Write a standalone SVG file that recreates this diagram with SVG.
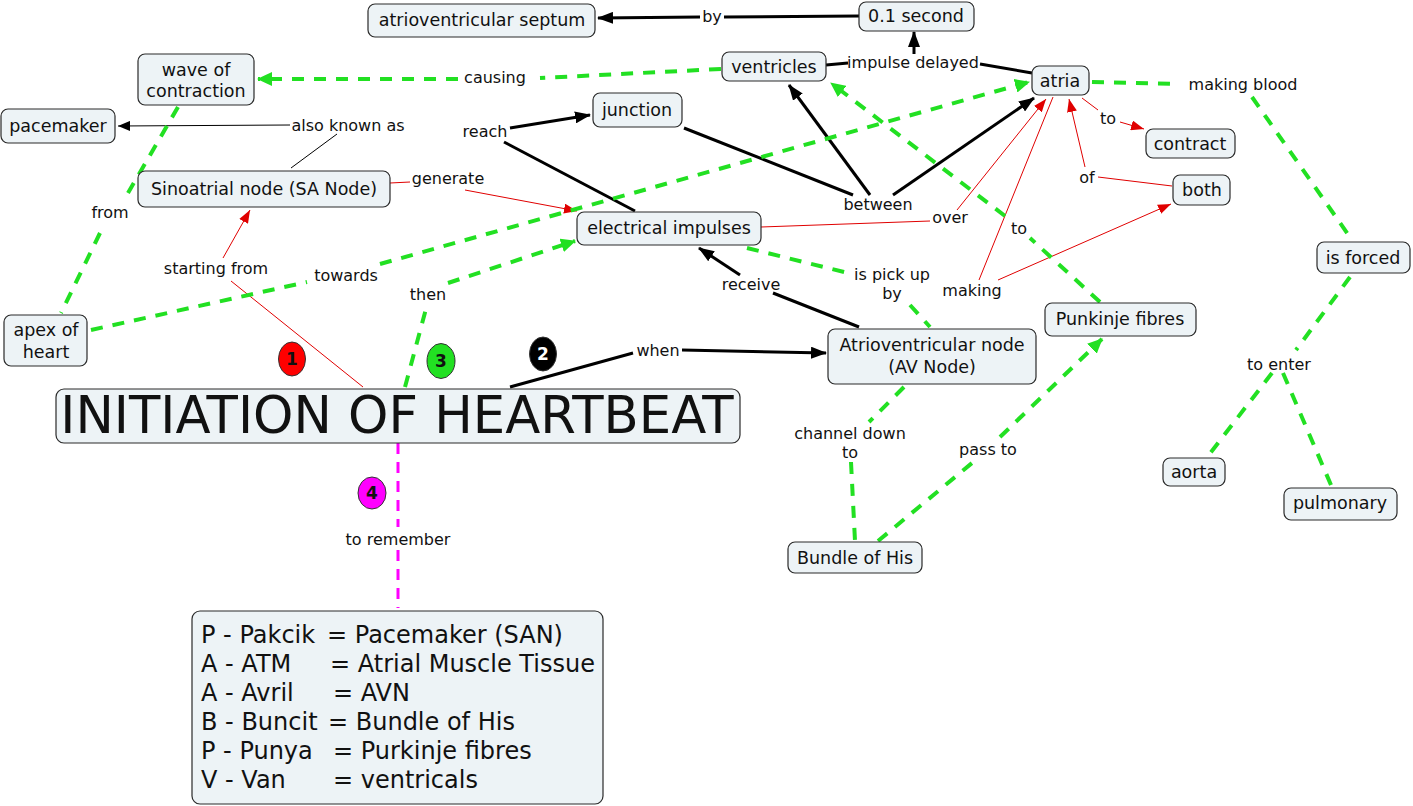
<svg xmlns="http://www.w3.org/2000/svg" width="1413" height="806" viewBox="0 0 1413 806">
<style>
text{font-family:"DejaVu Sans",Verdana,sans-serif;fill:#111;text-anchor:middle}
.n{font-size:17.5px}
.l{font-size:16px}
.box{fill:#edf3f6;stroke:#2a2a2a;stroke-width:1.2}
.bk{stroke:#000;stroke-width:3;fill:none}
.bt{stroke:#000;stroke-width:1;fill:none}
.rd{stroke:#e00000;stroke-width:1;fill:none}
.gr{stroke:#22e022;stroke-width:4;fill:none;stroke-dasharray:12 10}
.mg{stroke:#ff00ff;stroke-width:3;fill:none;stroke-dasharray:11 8}
.num{font-size:17px;font-weight:bold}
.mn{font-size:24px;text-anchor:start}
</style>
<defs>
<marker id="ab" viewBox="0 0 16 12" refX="15" refY="6" markerWidth="16" markerHeight="12" markerUnits="userSpaceOnUse" orient="auto"><path d="M0,0 L16,6 L0,12 z" fill="#000"/></marker>
<marker id="at" viewBox="0 0 12 10" refX="12" refY="5" markerWidth="12" markerHeight="10" markerUnits="userSpaceOnUse" orient="auto"><path d="M0,0 L12,5 L0,10 z" fill="#000"/></marker>
<marker id="ar" viewBox="0 0 13 10" refX="13" refY="5" markerWidth="13" markerHeight="10" markerUnits="userSpaceOnUse" orient="auto"><path d="M0,0 L13,5 L0,10 z" fill="#e00000"/></marker>
<marker id="ag" viewBox="0 0 15 14" refX="14" refY="7" markerWidth="15" markerHeight="14" markerUnits="userSpaceOnUse" orient="auto"><path d="M0,0 L15,7 L0,14 z" fill="#22e022"/></marker>
</defs>
<rect width="1413" height="806" fill="#fff"/>
<g id="connectors">
<path class="bk" d="M859,16 L724,17"/>
<path class="bk" d="M700,17 L598,18" marker-end="url(#ab)"/>
<path class="bk" d="M826,65 L848,63"/>
<path class="bk" d="M914,54 L914,32" marker-end="url(#ab)"/>
<path class="bk" d="M980,64 L1032,73"/>
<path class="bk" d="M684,128 L853,195"/>
<path class="bk" d="M870,195 L789,85" marker-end="url(#ab)"/>
<path class="bk" d="M893,195 L1034,98" marker-end="url(#ab)"/>
<path class="bk" d="M510,128 L590,115" marker-end="url(#ab)"/>
<path class="bk" d="M635,211 L504,142"/>
<path class="bk" d="M510,387 L633,353"/>
<path class="bk" d="M682,350 L826,353" marker-end="url(#ab)"/>
<path class="bk" d="M859,327 L773,293"/>
<path class="bk" d="M740,275 L699,248" marker-end="url(#ab)"/>
<path class="bt" d="M291,168 L337,134"/>
<path class="bt" d="M290,125 L118,126" marker-end="url(#at)"/>
<path class="rd" d="M390,183 L410,182"/>
<path class="rd" d="M465,190 L577,211" marker-end="url(#ar)"/>
<path class="rd" d="M363,387 L231,281"/>
<path class="rd" d="M223,258 L250,210" marker-end="url(#ar)"/>
<path class="rd" d="M761,227 L930,221"/>
<path class="rd" d="M957,210 L1046,99" marker-end="url(#ar)"/>
<path class="rd" d="M1053,97 L979,280"/>
<path class="rd" d="M998,280 L1171,204" marker-end="url(#ar)"/>
<path class="rd" d="M1172,186 L1098,177"/>
<path class="rd" d="M1085,167 L1069,99" marker-end="url(#ar)"/>
<path class="rd" d="M1082,98 L1098,110"/>
<path class="rd" d="M1120,122 L1144,129" marker-end="url(#ar)"/>
<path class="gr" d="M721,69 L540,78"/>
<path class="gr" d="M458,79 L258,79" marker-end="url(#ag)"/>
<path class="gr" d="M178,107 L128,193"/>
<path class="gr" d="M100,233 L61,313"/>
<path class="gr" d="M91,330 L307,282"/>
<path class="gr" d="M380,264 L1029,82" marker-end="url(#ag)"/>
<path class="gr" d="M405,387 L427,305"/>
<path class="gr" d="M448,283 L575,241" marker-end="url(#ag)"/>
<path class="gr" d="M747,248 L848,273"/>
<path class="gr" d="M910,305 L930,327"/>
<path class="gr" d="M904,387 L869,422"/>
<path class="gr" d="M851,462 L855,541"/>
<path class="gr" d="M878,541 L972,463"/>
<path class="gr" d="M1000,437 L1102,339" marker-end="url(#ag)"/>
<path class="gr" d="M1100,302 L1030,238"/>
<path class="gr" d="M1005,216 L831,83" marker-end="url(#ag)"/>
<path class="gr" d="M1092,82 L1177,84"/>
<path class="gr" d="M1252,97 L1352,240"/>
<path class="gr" d="M1350,277 L1296,350"/>
<path class="gr" d="M1272,373 L1208,456"/>
<path class="gr" d="M1283,373 L1331,485"/>
<path class="mg" d="M398,443 L398,527"/>
<path class="mg" d="M398,550 L398,608"/>
</g>
<g id="labels">
<text class="l" x="712" y="22">by</text>
<text class="l" x="913" y="68">impulse delayed</text>
<text class="l" x="495" y="83">causing</text>
<text class="l" x="348" y="131">also known as</text>
<text class="l" x="110" y="218">from</text>
<text class="l" x="448" y="184">generate</text>
<text class="l" x="485" y="137">reach</text>
<text class="l" x="878" y="210">between</text>
<text class="l" x="346" y="281">towards</text>
<text class="l" x="428" y="300">then</text>
<text class="l" x="1019" y="234">to</text>
<text class="l" x="216" y="274">starting from</text>
<text class="l" x="658" y="356">when</text>
<text class="l" x="751" y="290">receive</text>
<text class="l" x="892" y="280">is pick up</text>
<text class="l" x="892" y="299">by</text>
<text class="l" x="950" y="223">over</text>
<text class="l" x="972" y="296">making</text>
<text class="l" x="1087" y="183">of</text>
<text class="l" x="1108" y="124">to</text>
<text class="l" x="1243" y="90">making blood</text>
<text class="l" x="1279" y="370">to enter</text>
<text class="l" x="850" y="439">channel down</text>
<text class="l" x="850" y="458">to</text>
<text class="l" x="988" y="455">pass to</text>
<text class="l" x="398" y="545">to remember</text>
</g>
<g id="n-septum"><rect class="box" x="368" y="4" width="227" height="33" rx="7"/><text class="n" x="482" y="26">atrioventricular septum</text></g>
<g id="n-second"><rect class="box" x="859" y="2" width="115" height="29" rx="7"/><text class="n" x="916" y="22">0.1 second</text></g>
<g id="n-wave"><rect class="box" x="138" y="54" width="116" height="51" rx="7"/><text class="n" x="196" y="76">wave of</text><text class="n" x="196" y="97">contraction</text></g>
<g id="n-pacemaker"><rect class="box" x="1" y="109" width="114" height="34" rx="7"/><text class="n" x="58" y="132">pacemaker</text></g>
<g id="n-sa"><rect class="box" x="138" y="171" width="252" height="36" rx="7"/><text class="n" x="264" y="195">Sinoatrial node (SA Node)</text></g>
<g id="n-ventricles"><rect class="box" x="722" y="52" width="104" height="29" rx="7"/><text class="n" x="774" y="73">ventricles</text></g>
<g id="n-junction"><rect class="box" x="593" y="93" width="89" height="34" rx="7"/><text class="n" x="637" y="116">junction</text></g>
<g id="n-impulses"><rect class="box" x="577" y="212" width="184" height="33" rx="7"/><text class="n" x="669" y="234">electrical impulses</text></g>
<g id="n-atria"><rect class="box" x="1032" y="66" width="57" height="29" rx="7"/><text class="n" x="1060" y="87">atria</text></g>
<g id="n-contract"><rect class="box" x="1146" y="129" width="89" height="29" rx="7"/><text class="n" x="1190" y="150">contract</text></g>
<g id="n-both"><rect class="box" x="1173" y="175" width="57" height="30" rx="7"/><text class="n" x="1202" y="196">both</text></g>
<g id="n-forced"><rect class="box" x="1317" y="242" width="93" height="31" rx="7"/><text class="n" x="1363" y="264">is forced</text></g>
<g id="n-punkinje"><rect class="box" x="1045" y="303" width="151" height="33" rx="7"/><text class="n" x="1120" y="325">Punkinje fibres</text></g>
<g id="n-apex"><rect class="box" x="4" y="315" width="83" height="51" rx="7"/><text class="n" x="46" y="336">apex of</text><text class="n" x="46" y="358">heart</text></g>
<g id="n-title"><rect class="box" x="56" y="389" width="684" height="54" rx="8"/><text x="397" y="433" style="font-size:51.3px">INITIATION OF HEARTBEAT</text></g>
<g id="n-av"><rect class="box" x="828" y="329" width="208" height="55" rx="7"/><text class="n" x="932" y="351">Atrioventricular node</text><text class="n" x="932" y="373">(AV Node)</text></g>
<g id="n-bundle"><rect class="box" x="788" y="542" width="134" height="31" rx="7"/><text class="n" x="855" y="564">Bundle of His</text></g>
<g id="n-aorta"><rect class="box" x="1163" y="458" width="62" height="28" rx="7"/><text class="n" x="1194" y="478">aorta</text></g>
<g id="n-pulmonary"><rect class="box" x="1284" y="488" width="113" height="32" rx="7"/><text class="n" x="1340" y="509">pulmonary</text></g>
<g id="n-mnemonic"><rect class="box" x="192" y="611" width="411" height="193" rx="8"/>
<text class="mn" y="643"><tspan x="201">P - Pakcik</tspan><tspan x="327">= Pacemaker (SAN)</tspan></text>
<text class="mn" y="672"><tspan x="201">A - ATM</tspan><tspan x="330">= Atrial Muscle Tissue</tspan></text>
<text class="mn" y="701"><tspan x="201">A - Avril</tspan><tspan x="333">= AVN</tspan></text>
<text class="mn" y="730"><tspan x="201">B - Buncit</tspan><tspan x="328">= Bundle of His</tspan></text>
<text class="mn" y="759"><tspan x="201">P - Punya</tspan><tspan x="333">= Purkinje fibres</tspan></text>
<text class="mn" y="788"><tspan x="201">V - Van</tspan><tspan x="333">= ventricals</tspan></text>
</g>
<g id="badges">
<ellipse cx="292" cy="359" rx="13.5" ry="17" fill="#ff0000" stroke="#333"/><text class="num" x="292" y="365">1</text>
<ellipse cx="543" cy="354" rx="13.5" ry="17" fill="#000" stroke="#333"/><text class="num" x="543" y="360" style="fill:#fff">2</text>
<ellipse cx="441" cy="361" rx="14" ry="17.5" fill="#22e022" stroke="#333"/><text class="num" x="441" y="367">3</text>
<ellipse cx="372" cy="493" rx="14" ry="16" fill="#ff00ff" stroke="#333"/><text class="num" x="372" y="499">4</text>
</g>
</svg>
